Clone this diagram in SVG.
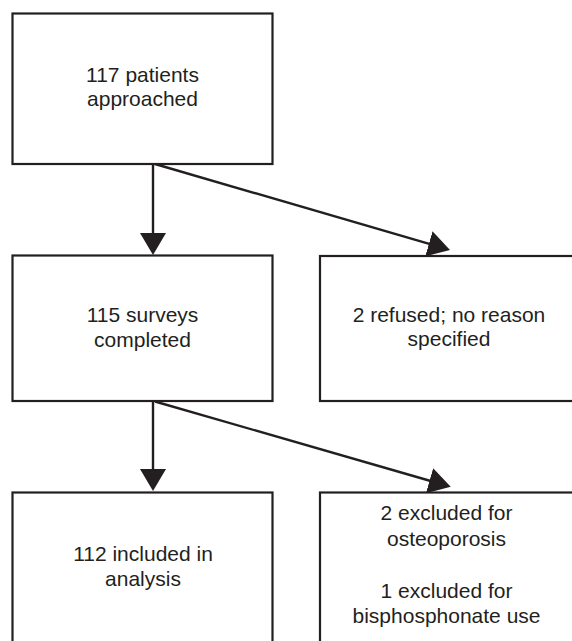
<svg xmlns="http://www.w3.org/2000/svg" width="572" height="641" viewBox="0 0 572 641">
<style>
.box{fill:#fff;stroke:#231f20;stroke-width:2.2}
.lbl{font-family:"Liberation Sans",Arial,sans-serif;font-size:21px;fill:#231f20;text-anchor:middle}
.edge{stroke:#231f20;stroke-width:2.4;fill:none;marker-end:url(#ah)}
</style>
<defs>
<marker id="ah" viewBox="0 0 22 26" refX="12" refY="13" markerWidth="22" markerHeight="26" markerUnits="userSpaceOnUse" orient="auto">
<path d="M0,0 L22,13 L0,26 Z" fill="#231f20"/>
</marker>
</defs>
<rect width="572" height="641" fill="#fff"/>
<g id="connectors">
<line class="edge" x1="153" y1="164" x2="153" y2="245"/>
<line class="edge" x1="155" y1="164" x2="440.4" y2="247.2"/>
<line class="edge" x1="153" y1="401" x2="153" y2="481"/>
<line class="edge" x1="155" y1="401.5" x2="441.1" y2="484"/>
</g>
<g id="n1">
<rect class="box" x="12.5" y="13.5" width="260" height="150.5"/>
<text class="lbl" x="142.5" y="81.7">117 patients</text>
<text class="lbl" x="142.5" y="106.2">approached</text>
</g>
<g id="n2">
<rect class="box" x="12.5" y="255.5" width="260" height="145.5"/>
<text class="lbl" x="142.5" y="321.7">115 surveys</text>
<text class="lbl" x="142.5" y="346.5">completed</text>
</g>
<g id="n3">
<rect class="box" x="320" y="256" width="262" height="145"/>
<text class="lbl" x="449" y="321.7">2 refused; no reason</text>
<text class="lbl" x="449" y="346">specified</text>
</g>
<g id="n4">
<rect class="box" x="12.5" y="492.5" width="260" height="170"/>
<text class="lbl" x="143" y="561">112 included in</text>
<text class="lbl" x="143" y="585.5">analysis</text>
</g>
<g id="n5">
<rect class="box" x="320" y="492.5" width="262" height="170"/>
<text class="lbl" x="446.5" y="520">2 excluded for</text>
<text class="lbl" x="446.5" y="545.5">osteoporosis</text>
<text class="lbl" x="446.5" y="598.3">1 excluded for</text>
<text class="lbl" x="446.5" y="622.7">bisphosphonate use</text>
</g>
</svg>
